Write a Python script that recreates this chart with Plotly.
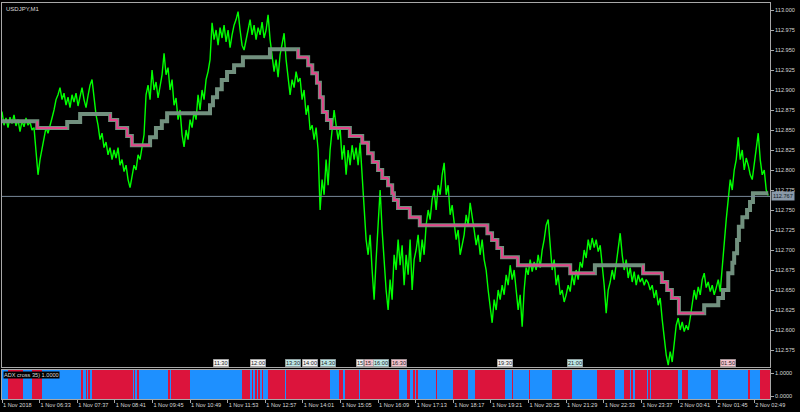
import numpy as np
import plotly.graph_objects as go

# ---------------- data ----------------
symbol_title = "USDJPY,M1"
indicator_title = "ADX cross 35) 1.0000"
current_price = 112.767

# close prices (minutes since 1 Nov 05:29 spread evenly over the visible window)
close_prices = [
    112.873, 112.856, 112.865, 112.853, 112.866, 112.858, 112.869, 112.855,
    112.863, 112.848, 112.861, 112.854, 112.865, 112.856, 112.860, 112.850,
    112.853, 112.825, 112.794, 112.813, 112.825, 112.838, 112.853, 112.846,
    112.854, 112.865, 112.875, 112.888, 112.894, 112.903, 112.888, 112.896,
    112.881, 112.891, 112.878, 112.894, 112.885, 112.896, 112.880, 112.891,
    112.903, 112.888, 112.878, 112.893, 112.906, 112.913, 112.888, 112.869,
    112.856, 112.838, 112.846, 112.828, 112.835, 112.819, 112.828, 112.813,
    112.825, 112.815, 112.828, 112.806, 112.813, 112.798, 112.806, 112.788,
    112.778, 112.794, 112.806, 112.800, 112.819, 112.813, 112.831, 112.844,
    112.894, 112.906, 112.888, 112.925, 112.900, 112.910, 112.890, 112.906,
    112.919, 112.946, 112.919, 112.928, 112.900, 112.913, 112.881, 112.890,
    112.863, 112.875, 112.844, 112.829, 112.850, 112.838, 112.863, 112.853,
    112.873, 112.863, 112.894, 112.875, 112.900, 112.888, 112.913, 112.923,
    112.938, 112.984, 112.963, 112.975, 112.956, 112.978, 112.965, 112.981,
    112.960, 112.975, 112.953, 112.969, 112.981, 112.988, 112.998, 112.975,
    112.956, 112.950, 112.965, 112.975, 112.988, 112.969, 112.981, 112.963,
    112.978, 112.969, 112.985, 112.965, 112.975, 112.994, 112.963, 112.944,
    112.923, 112.938, 112.916, 112.944, 112.960, 112.971, 112.938, 112.919,
    112.894, 112.913, 112.903, 112.923, 112.910, 112.915, 112.888, 112.900,
    112.869, 112.881, 112.850, 112.856, 112.838, 112.853, 112.825, 112.750,
    112.788, 112.769, 112.813, 112.781, 112.825, 112.850, 112.875, 112.856,
    112.838, 112.853, 112.813, 112.831, 112.794, 112.825, 112.806, 112.831,
    112.813, 112.828, 112.806, 112.834, 112.794, 112.750, 112.713, 112.694,
    112.719, 112.675, 112.638, 112.688, 112.738, 112.775, 112.725, 112.681,
    112.650, 112.625, 112.663, 112.638, 112.694, 112.675, 112.713, 112.681,
    112.706, 112.656, 112.694, 112.669, 112.713, 112.650, 112.688, 112.700,
    112.719, 112.685, 112.713, 112.694, 112.731, 112.750, 112.738, 112.763,
    112.775, 112.750, 112.781, 112.769, 112.794, 112.809, 112.769, 112.781,
    112.744, 112.756, 112.731, 112.713, 112.725, 112.694, 112.706, 112.719,
    112.744, 112.731, 112.759, 112.744, 112.725, 112.706, 112.719, 112.694,
    112.713, 112.688, 112.675, 112.650, 112.631, 112.609, 112.638, 112.625,
    112.650, 112.638, 112.656, 112.644, 112.669, 112.656, 112.681, 112.663,
    112.675, 112.650, 112.625, 112.644, 112.604, 112.650, 112.678, 112.669,
    112.688, 112.673, 112.685, 112.675, 112.694, 112.678, 112.700, 112.713,
    112.731, 112.738, 112.706, 112.675, 112.688, 112.656, 112.669, 112.644,
    112.650, 112.635, 112.644, 112.656, 112.648, 112.669, 112.656, 112.675,
    112.663, 112.685, 112.678, 112.700, 112.690, 112.713, 112.700, 112.715,
    112.703, 112.713, 112.698, 112.706, 112.681, 112.656, 112.621, 112.650,
    112.660, 112.675, 112.663, 112.685, 112.700, 112.721, 112.694, 112.675,
    112.688, 112.665, 112.678, 112.660, 112.673, 112.656, 112.669, 112.660,
    112.665, 112.656, 112.663, 112.659, 112.650, 112.656, 112.640, 112.650,
    112.631, 112.640, 112.613, 112.588, 112.569, 112.556, 112.573, 112.560,
    112.588, 112.606, 112.615, 112.600, 112.610, 112.598, 112.606, 112.600,
    112.615, 112.631, 112.650, 112.638, 112.654, 112.644, 112.663, 112.671,
    112.653, 112.660, 112.648, 112.656, 112.644, 112.653, 112.663, 112.648,
    112.681, 112.713, 112.738, 112.763, 112.788, 112.775, 112.800, 112.813,
    112.841, 112.813, 112.825, 112.800, 112.815, 112.806, 112.794, 112.788,
    112.806, 112.825, 112.846, 112.813, 112.794, 112.800, 112.775, 112.768,
]
last_minute = 1304

# step (trend) line: start minute of each level and its price
step_minute = [0, 60, 111, 133, 184, 196, 213, 221, 252, 262,
               272, 281, 354, 359, 366, 374, 383, 395, 410, 456,
               504, 521, 528, 536, 541, 546, 553, 560, 592, 613,
               623, 631, 640, 647, 657, 664, 667, 674, 694, 711,
               826, 834, 843, 851, 878, 967, 1009, 1091, 1123, 1132,
               1140, 1152, 1195, 1219, 1227, 1236, 1243, 1246, 1251, 1254,
               1260, 1268, 1273, 1278]
step_price = [112.861, 112.8525, 112.860, 112.870, 112.8625, 112.8525, 112.8425, 112.831, 112.841, 112.8525,
              112.861, 112.871, 112.881, 112.891, 112.901, 112.9125, 112.9225, 112.931, 112.941, 112.951,
              112.941, 112.931, 112.921, 112.909, 112.891, 112.8725, 112.8625, 112.8525, 112.8425, 112.834,
              112.821, 112.810, 112.800, 112.790, 112.781, 112.771, 112.7625, 112.7525, 112.741, 112.731,
              112.721, 112.7125, 112.7025, 112.691, 112.681, 112.671, 112.681, 112.671, 112.660, 112.650,
              112.640, 112.621, 112.631, 112.640, 112.650, 112.671, 112.684, 112.696, 112.7125, 112.729,
              112.741, 112.750, 112.760, 112.771]

# ADX cross indicator: start minute of each run and its state (1 = red / 0 = blue)
adx_start = [0, 10, 36, 51, 68, 136, 138, 143, 145, 148,
             150, 153, 223, 226, 228, 231, 233, 284, 286, 288,
             320, 408, 422, 426, 427, 432, 434, 437, 439, 443,
             444, 453, 482, 483, 558, 574, 582, 584, 608, 609,
             676, 689, 694, 700, 703, 705, 708, 739, 740, 768,
             793, 805, 856, 868, 870, 897, 899, 936, 967, 968,
             970, 1013, 1043, 1058, 1069, 1072, 1074, 1077, 1098, 1101,
             1103, 1105, 1151, 1157, 1168, 1207, 1219, 1271, 1273, 1290]
adx_state = [0, 1, 0, 1, 0, 1, 0, 1, 0, 1,
             0, 1, 0, 1, 0, 1, 0, 1, 0, 1,
             0, 1, 0, 1, 0, 1, 0, 1, 0, 1,
             0, 1, 0, 1, 0, 1, 0, 1, 0, 1,
             0, 1, 0, 1, 0, 1, 0, 1, 0, 1,
             0, 1, 0, 1, 0, 1, 0, 1, 0, 1,
             0, 1, 0, 1, 0, 1, 0, 1, 0, 1,
             0, 1, 0, 1, 0, 1, 0, 1, 0, 1]

# time axis labels (every 64 bars)
time_tick_labels = ["1 Nov 2018", "1 Nov 06:33", "1 Nov 07:37", "1 Nov 08:41", "1 Nov 09:45",
                    "1 Nov 10:49", "1 Nov 11:53", "1 Nov 12:57", "1 Nov 14:01", "1 Nov 15:05",
                    "1 Nov 16:09", "1 Nov 17:13", "1 Nov 18:17", "1 Nov 19:21", "1 Nov 20:25",
                    "1 Nov 21:29", "1 Nov 22:33", "1 Nov 23:37", "2 Nov 00:41", "2 Nov 01:45",
                    "2 Nov 02:49"]
time_tick_minutes = [64 * i for i in range(len(time_tick_labels))]

price_ticks = [112.575 + 0.025 * i for i in range(18)]

# time tags drawn above the indicator panel
tag_text = ["11:30", "12:00", "13:30", "14:00", "14:30", "15", "15:", "16:00", "16:30", "19:30", "21:00", "01:50"]
tag_minute = [359, 422, 482, 511, 541, 603, 616, 631, 662, 843, 962, 1222]
tag_kind = ["w", "w", "c", "w", "c", "w", "p", "c", "p", "w", "c", "p"]

# ---------------- styles ----------------
BG = "#000000"
FRAME = "#a8a8a8"
TXT = "#d8d8d8"
GREEN = "#00ff00"
STEP_GRAY = "#71907e"
STEP_PINK = "#e2468a"
RED = "#dc143c"
BLUE = "#1e90ff"
FONT = "Liberation Sans"
FS = 5.6
tag_bg = {"w": "#f4f4f4", "c": "#bfeaea", "p": "#f6c6d0"}

x_max = 1307
main_range = [112.55375, 113.00875]
ind_range = [-0.1304, 1.1304]

fig = go.Figure()

# price line
price_minutes = np.linspace(0, last_minute, len(close_prices))
fig.add_trace(go.Scatter(x=price_minutes, y=close_prices, mode="lines",
                         line=dict(color=GREEN, width=1.4), xaxis="x", yaxis="y",
                         hoverinfo="skip", showlegend=False))

# step line (gray, full)
gx = list(step_minute) + [last_minute]
gy = list(step_price) + [step_price[-1]]
fig.add_trace(go.Scatter(x=gx, y=gy, mode="lines", line=dict(color=STEP_GRAY, width=4, shape="hv"),
                         xaxis="x", yaxis="y", hoverinfo="skip", showlegend=False))

# pink overlay on falling steps
px_, py_ = [], []
for i in range(1, len(step_minute)):
    if step_price[i] < step_price[i - 1]:
        nxt = step_minute[i + 1] if i + 1 < len(step_minute) else last_minute
        px_ += [step_minute[i], step_minute[i], nxt, None]
        py_ += [step_price[i - 1], step_price[i], step_price[i], None]
fig.add_trace(go.Scatter(x=px_, y=py_, mode="lines", line=dict(color=STEP_PINK, width=2),
                         xaxis="x", yaxis="y", hoverinfo="skip", showlegend=False, connectgaps=False))

# indicator histogram (runs)
ends = adx_start[1:] + [x_max]
centers = [(s + e) / 2 for s, e in zip(adx_start, ends)]
widths = [e - s for s, e in zip(adx_start, ends)]
colors = [RED if s == 1 else BLUE for s in adx_state]
fig.add_trace(go.Bar(x=centers, y=[ind_range[1] - ind_range[0]] * len(centers), base=ind_range[0],
                     width=widths, marker=dict(color=colors, line=dict(width=0)),
                     xaxis="x2", yaxis="y2", hoverinfo="skip", showlegend=False))

# current price line
fig.add_shape(type="line", xref="x", yref="y", x0=0, x1=x_max, y0=current_price, y1=current_price,
              line=dict(color="#778899", width=1))

annotations = []
annotations.append(dict(text=symbol_title, xref="paper", yref="paper", x=0.003, y=1, xanchor="left",
                        yanchor="top", yshift=-1, showarrow=False, font=dict(family=FONT, size=FS + 0.4, color=TXT)))
annotations.append(dict(text=indicator_title, xref="paper", yref="paper", x=0.001, y=0.0732, xanchor="left",
                        yanchor="top", yshift=-1, showarrow=False, bgcolor="#000000", borderpad=0,
                        font=dict(family=FONT, size=FS, color=TXT)))
annotations.append(dict(text="112.767", xref="paper", yref="y", x=1.0, y=current_price, xanchor="left",
                        yanchor="middle", xshift=1, showarrow=False, bgcolor="#8a99aa", borderpad=1,
                        font=dict(family=FONT, size=FS, color="#101820")))
for t, m, k in zip(tag_text, tag_minute, tag_kind):
    annotations.append(dict(text=t, xref="x", yref="y", x=m, y=112.5588, xanchor="left", yanchor="middle",
                            showarrow=False, bgcolor=tag_bg[k], bordercolor="#909090", borderwidth=0.5,
                            borderpad=0.5, font=dict(family=FONT, size=FS, color="#202020")))

fig.update_layout(
    width=800, height=412,
    margin=dict(l=2, r=30, t=3, b=13, autoexpand=False),
    paper_bgcolor=BG, plot_bgcolor=BG,
    showlegend=False, bargap=0,
    annotations=annotations,
    xaxis=dict(domain=[0, 1], anchor="y", range=[0, x_max], showticklabels=False, ticks="",
               showline=True, mirror=True, linecolor=FRAME, linewidth=1, showgrid=False, zeroline=False,
               automargin=False),
    yaxis=dict(domain=[32 / 396, 1], anchor="x", side="right", range=main_range,
               tickvals=price_ticks, ticktext=[f"{v:.3f}" for v in price_ticks],
               ticks="outside", ticklen=3, tickcolor=FRAME, showline=True, mirror=True,
               linecolor=FRAME, linewidth=1, showgrid=False, zeroline=False, automargin=False,
               tickfont=dict(family=FONT, size=FS, color=TXT)),
    xaxis2=dict(domain=[0, 1], anchor="y2", matches="x", range=[0, x_max],
                tickvals=time_tick_minutes, ticktext=time_tick_labels, ticks="outside", ticklen=3,
                tickcolor=FRAME, ticklabelposition="outside right", tickangle=0, showline=True, mirror=True,
                linecolor=FRAME, linewidth=1, showgrid=False, zeroline=False, automargin=False,
                tickfont=dict(family=FONT, size=FS, color=TXT)),
    yaxis2=dict(domain=[0, 29 / 396], anchor="x2", side="right", range=ind_range,
                tickvals=[0, 1], ticktext=["0.0000", "1.0000"], ticks="outside", ticklen=3,
                tickcolor=FRAME, showline=True, mirror=True, linecolor=FRAME, linewidth=1,
                showgrid=False, zeroline=False, automargin=False,
                tickfont=dict(family=FONT, size=FS, color=TXT)),
)

fig.write_html("out.html", config={"displayModeBar": False},
               post_script="document.body.style.margin='0';document.body.style.background='#000';")
